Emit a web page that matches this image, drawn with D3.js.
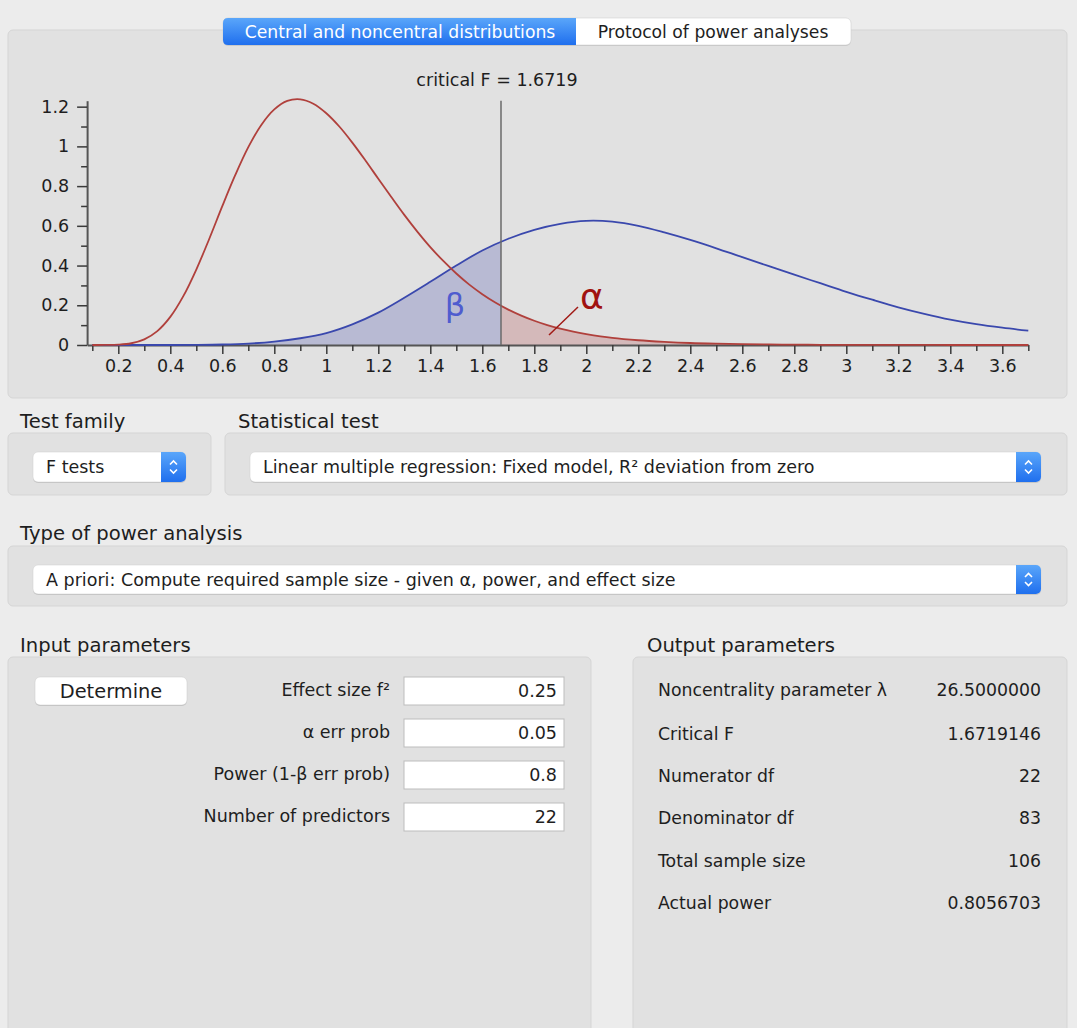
<!DOCTYPE html>
<html>
<head>
<meta charset="utf-8">
<script src="https://cdn.jsdelivr.net/npm/d3@7"></script>
<style>
  body { margin: 0; background: #ececec; }
  svg text { font-family: "DejaVu Sans", sans-serif; }
</style>
</head>
<body>
<div id="app"></div>
<script>
// central F distribution (H0), red: F values and densities
var centralF = [0.1, 0.15, 0.2, 0.25, 0.3, 0.35, 0.4, 0.45, 0.5, 0.55,
  0.6, 0.65, 0.7, 0.75, 0.8, 0.85, 0.9, 0.95, 1.0, 1.05,
  1.1, 1.15, 1.2, 1.25, 1.3, 1.35, 1.4, 1.45, 1.5, 1.55,
  1.6, 1.65, 1.7, 1.75, 1.8, 1.85, 1.9, 1.95, 2.0,
  2.1, 2.2, 2.3, 2.4, 2.5, 2.6, 2.7, 2.8, 2.9, 3.0,
  3.1, 3.2, 3.3, 3.4, 3.5, 3.6, 3.7];
var centralDensity = [0.0000, 0.0002, 0.0018, 0.0088, 0.0285, 0.0701, 0.1415, 0.2459, 0.380, 0.535,
  0.699, 0.856, 0.996, 1.108, 1.186, 1.229, 1.237, 1.215, 1.167, 1.100,
  1.019, 0.930, 0.837, 0.745, 0.655, 0.571, 0.493, 0.423, 0.360, 0.304,
  0.256, 0.214, 0.178, 0.148, 0.122, 0.100, 0.082, 0.067, 0.055,
  0.036, 0.024, 0.016, 0.010, 0.0065, 0.0042, 0.0027, 0.0018, 0.0011, 0.0007,
  0.0005, 0.0003, 0.0002, 0.0001, 0.0001, 0.0001, 0.0000];

// noncentral F distribution (H1), blue
var noncentralF = [0.1, 0.2, 0.3, 0.4, 0.5, 0.6, 0.7, 0.8, 0.9, 1.0,
  1.1, 1.2, 1.3, 1.4, 1.5, 1.6, 1.7, 1.8, 1.9, 2.0,
  2.1, 2.2, 2.3, 2.4, 2.5, 2.6, 2.7, 2.8, 2.9, 3.0,
  3.1, 3.2, 3.3, 3.4, 3.5, 3.6, 3.7];
var noncentralDensity = [0, 0, 0, 0.0001, 0.0007, 0.0025, 0.007, 0.017, 0.034, 0.060,
  0.104, 0.163, 0.238, 0.318, 0.400, 0.476, 0.535, 0.580, 0.610, 0.625,
  0.621, 0.600, 0.567, 0.529, 0.487, 0.442, 0.398, 0.354, 0.311, 0.268,
  0.228, 0.190, 0.157, 0.128, 0.105, 0.087, 0.072];

var xTickValues = [0.2, 0.4, 0.6, 0.8, 1, 1.2, 1.4, 1.6, 1.8, 2, 2.2, 2.4, 2.6, 2.8, 3, 3.2, 3.4, 3.6];
var yTickValues = [0, 0.2, 0.4, 0.6, 0.8, 1, 1.2];
var criticalF = 1.6719;

var inputLabels = ["Effect size f²", "α err prob", "Power (1-β err prob)", "Number of predictors"];
var inputValues = ["0.25", "0.05", "0.8", "22"];
var outputLabels = ["Noncentrality parameter λ", "Critical F", "Numerator df", "Denominator df", "Total sample size", "Actual power"];
var outputValues = ["26.5000000", "1.6719146", "22", "83", "106", "0.8056703"];

var svg = d3.select("#app").append("svg")
  .attr("width", 1077)
  .attr("height", 1028);

svg.append("rect").attr("width", 1077).attr("height", 1028).attr("fill", "#ececec");

var defs = svg.append("defs");
var grad = defs.append("linearGradient").attr("id", "blueGrad")
  .attr("x1", 0).attr("y1", 0).attr("x2", 0).attr("y2", 1);
grad.append("stop").attr("offset", "0%").attr("stop-color", "#5aa6fa");
grad.append("stop").attr("offset", "100%").attr("stop-color", "#1f6fee");

function panel(x, y, w, h) {
  svg.append("rect")
    .attr("x", x).attr("y", y).attr("width", w).attr("height", h)
    .attr("rx", 5)
    .attr("fill", "#e1e1e1")
    .attr("stroke", "#d5d5d5");
}

function label(x, y, txt, size, anchor) {
  return svg.append("text")
    .attr("x", x).attr("y", y)
    .attr("text-anchor", anchor || "start")
    .style("font-size", size + "px")
    .attr("fill", "#1e1e1e")
    .text(txt);
}

function popup(x, y, w, h, txt) {
  svg.append("rect").attr("x", x).attr("y", y + 1).attr("width", w).attr("height", h)
    .attr("rx", 5).attr("fill", "#c4c4c4");
  svg.append("rect").attr("x", x).attr("y", y).attr("width", w).attr("height", h)
    .attr("rx", 5).attr("fill", "#fff").attr("stroke", "#cfcfcf").attr("stroke-width", 0.5);
  svg.append("rect").attr("x", x + w - 25).attr("y", y).attr("width", 25).attr("height", h)
    .attr("rx", 5).attr("fill", "url(#blueGrad)");
  svg.append("rect").attr("x", x + w - 25).attr("y", y).attr("width", 6).attr("height", h)
    .attr("fill", "url(#blueGrad)");
  var cx = x + w - 12.5, cy = y + h / 2;
  svg.append("path")
    .attr("d", `M${cx - 3.5},${cy - 2.5}L${cx},${cy - 6}L${cx + 3.5},${cy - 2.5}M${cx - 3.5},${cy + 2.5}L${cx},${cy + 6}L${cx + 3.5},${cy + 2.5}`)
    .attr("fill", "none").attr("stroke", "#fff").attr("stroke-width", 1.6);
  label(x + 13, y + h / 2 + 6, txt, 17.5);
}

// ---------- chart panel + tabs ----------
panel(8, 30, 1059, 368);

svg.append("rect").attr("x", 223).attr("y", 19).attr("width", 628).attr("height", 27)
  .attr("rx", 5).attr("fill", "#c9c9c9");
svg.append("rect").attr("x", 223).attr("y", 18).attr("width", 628).attr("height", 27)
  .attr("rx", 5).attr("fill", "#fff").attr("stroke", "#c8c8c8").attr("stroke-width", 0.5);
svg.append("path")
  .attr("d", "M228,18H576V45H228Q223,45 223,40V23Q223,18 228,18Z")
  .attr("fill", "url(#blueGrad)");
label(400, 38, "Central and noncentral distributions", 17.2, "middle").attr("fill", "#fff");
label(713, 38, "Protocol of power analyses", 17.2, "middle");

var x = d3.scaleLinear().domain([0.08, 3.7]).range([87.1, 1028.3]);
var y = d3.scaleLinear().domain([0, 1.23]).range([345, 100.7]);

var h0 = centralF.map((f, i) => ({ f: f, v: centralDensity[i] }));
var h1 = noncentralF.map((f, i) => ({ f: f, v: noncentralDensity[i] }));

var smooth = d3.curveCatmullRom.alpha(0.5);
var area = d3.area().x(d => x(d.f)).y0(y(0)).y1(d => y(d.v)).curve(smooth);
var line = d3.line().x(d => x(d.f)).y(d => y(d.v)).curve(smooth);

defs.append("clipPath").attr("id", "leftClip").append("rect")
  .attr("x", x(0.08)).attr("y", 90).attr("width", x(criticalF) - x(0.08)).attr("height", 255);
defs.append("clipPath").attr("id", "rightClip").append("rect")
  .attr("x", x(criticalF)).attr("y", 90).attr("width", x(3.7) - x(criticalF)).attr("height", 255);

var chart = svg.append("g");

// beta: area under H1 left of critical F
chart.append("path")
  .datum(h1)
  .attr("clip-path", "url(#leftClip)")
  .attr("fill", "#b8bad3")
  .attr("d", area);

// alpha: area under H0 right of critical F
chart.append("path")
  .datum(h0)
  .attr("clip-path", "url(#rightClip)")
  .attr("fill", "#d4b9ba")
  .attr("d", area);

// axes
var minorX = d3.range(1, 38).map(i => i / 10).filter(v => Math.round(v * 10) % 2 === 1);
var minorY = d3.range(1, 12, 2).map(i => i / 10);

chart.append("g")
  .attr("transform", `translate(0, ${y(0)})`)
  .call(d3.axisBottom(x).tickValues(xTickValues).tickSize(9).tickSizeOuter(0).tickPadding(6)
    .tickFormat(d3.format("~g")));
chart.append("g")
  .attr("transform", `translate(0, ${y(0)})`)
  .call(d3.axisBottom(x).tickValues(minorX).tickSize(6).tickSizeOuter(0).tickFormat(""))
  .select(".domain").remove();

chart.append("g")
  .attr("transform", `translate(${x(0.08)}, 0)`)
  .call(d3.axisLeft(y).tickValues(yTickValues).tickSize(10).tickSizeOuter(0).tickPadding(8)
    .tickFormat(d3.format("~g")));
chart.append("g")
  .attr("transform", `translate(${x(0.08)}, 0)`)
  .call(d3.axisLeft(y).tickValues(minorY).tickSize(6).tickSizeOuter(0).tickFormat(""))
  .select(".domain").remove();

chart.selectAll(".domain").attr("stroke", "#555").attr("stroke-width", 2);
chart.selectAll(".tick line").attr("stroke", "#3a3a3a").attr("stroke-width", 1.5);
chart.selectAll(".tick text")
  .style("font-family", "'DejaVu Sans', sans-serif")
  .style("font-size", "17.5px")
  .attr("fill", "#1e1e1e");

// curves
chart.append("path")
  .datum(h1)
  .attr("fill", "none")
  .attr("stroke", "#3a48ad")
  .attr("stroke-width", 1.8)
  .attr("d", line);

chart.append("path")
  .datum(h0)
  .attr("fill", "none")
  .attr("stroke", "#b0403c")
  .attr("stroke-width", 1.8)
  .attr("d", line);

// critical F line
chart.append("line")
  .attr("x1", x(criticalF)).attr("x2", x(criticalF))
  .attr("y1", y(1.23)).attr("y2", y(0))
  .attr("stroke", "#6a6a6a").attr("stroke-width", 1.5);
label(x(criticalF) - 4, 86, "critical F = " + criticalF, 17.5, "middle");

// alpha / beta labels
chart.append("line")
  .attr("x1", 549).attr("y1", 335).attr("x2", 578).attr("y2", 307)
  .attr("stroke", "#a11a16").attr("stroke-width", 1.5);
chart.append("text")
  .attr("x", 580).attr("y", 309)
  .style("font-size", "36px")
  .attr("fill", "#a0120f")
  .text("α");
chart.append("text")
  .attr("x", 455).attr("y", 316)
  .attr("text-anchor", "middle")
  .style("font-size", "32px")
  .attr("fill", "#4f5ccf")
  .text("β");

// ---------- test selection ----------
label(20, 428, "Test family", 19.6);
label(238, 428, "Statistical test", 19.6);
panel(8, 433, 203, 62);
panel(225, 433, 842, 62);
popup(33, 452, 153, 30, "F tests");
popup(250, 452, 791, 30, "Linear multiple regression: Fixed model, R² deviation from zero");

label(20, 540, "Type of power analysis", 19.6);
panel(8, 546, 1059, 60);
popup(33, 565, 1008, 29, "A priori: Compute required sample size - given α, power, and effect size");

// ---------- input / output parameters ----------
label(20, 652, "Input parameters", 19.6);
label(647, 652, "Output parameters", 19.6);
panel(8, 657, 583, 380);
panel(633, 657, 434, 380);

svg.append("rect").attr("x", 35).attr("y", 678).attr("width", 152).attr("height", 28)
  .attr("rx", 5).attr("fill", "#c4c4c4");
svg.append("rect").attr("x", 35).attr("y", 677).attr("width", 152).attr("height", 28)
  .attr("rx", 5).attr("fill", "#fff").attr("stroke", "#c8c8c8").attr("stroke-width", 0.5);
label(111, 698, "Determine", 19.4, "middle");

inputLabels.forEach(function(t, i) {
  var by = 677 + i * 42;
  label(390, by + 19, t, 17.5, "end");
  svg.append("rect").attr("x", 404).attr("y", by).attr("width", 160).attr("height", 28)
    .attr("fill", "#fff").attr("stroke", "#bdbdbd");
  label(557, by + 20, inputValues[i], 17.5, "end");
});

var outY = [696, 740, 782, 824, 867, 909];
outputLabels.forEach(function(t, i) {
  label(658, outY[i], t, 17.3);
  label(1041, outY[i], outputValues[i], 17.3, "end");
});
</script>
</body>
</html>
